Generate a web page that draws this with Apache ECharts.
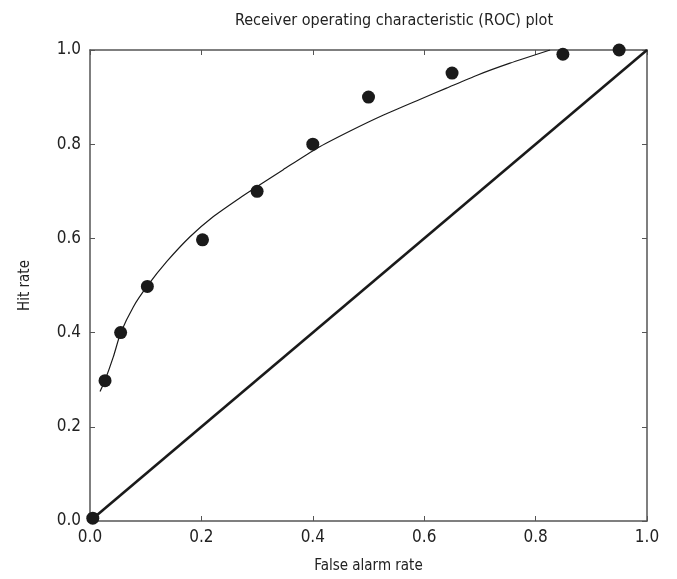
<!DOCTYPE html>
<html>
<head>
<meta charset="utf-8">
<script src="https://cdn.jsdelivr.net/npm/echarts@6/dist/echarts.min.js"></script>
<style>
  html, body { margin: 0; padding: 0; background: #fff; }
  #chart { width: 677px; height: 579px; }
</style>
</head>
<body>
<div id="chart"></div>
<script>
// observed points
const falseAlarm = [0.005, 0.027, 0.055, 0.103, 0.202, 0.30, 0.40, 0.50, 0.65, 0.849, 0.95];
const hitRate = [0.006, 0.298, 0.40, 0.498, 0.597, 0.70, 0.80, 0.90, 0.951, 0.991, 1.0];

// fitted ROC curve
const curveX = [0.018, 0.027, 0.042, 0.055, 0.078, 0.103, 0.138, 0.180, 0.221, 0.269,
                0.305, 0.347, 0.407, 0.467, 0.527, 0.592, 0.640, 0.694, 0.754, 0.826];
const curveY = [0.275, 0.299, 0.349, 0.399, 0.455, 0.499, 0.551, 0.604, 0.646, 0.686,
                0.714, 0.746, 0.791, 0.828, 0.862, 0.895, 0.919, 0.946, 0.972, 1.0];

// chance diagonal
const chanceX = [0, 1];
const chanceY = [0, 1];

const font = "'DejaVu Sans Condensed', 'Liberation Sans', sans-serif";
const ink = '#1a1a1a';
const frame = '#555';

const chart = echarts.init(document.getElementById('chart'));

const zip = (xs, ys) => xs.map((x, i) => [x, ys[i]]);
const fmt = v => v.toFixed(1);

function frameAxis(extra) {
    return Object.assign({
        type: 'value', min: 0, max: 1, interval: 0.2,
        axisLine: { show: true, onZero: false, lineStyle: { color: frame, width: 1.5 } },
        axisTick: { show: true, inside: true, length: 5, lineStyle: { color: frame, width: 1 } },
        axisLabel: { show: false },
        splitLine: { show: false }
    }, extra);
}

chart.setOption({
    animation: false,
    backgroundColor: '#fff',
    title: {
        text: 'Receiver operating characteristic (ROC) plot',
        left: 389,
        textAlign: 'center',
        top: 8,
        textStyle: { fontFamily: font, fontSize: 16, fontWeight: 'normal', color: '#222' }
    },
    grid: { left: 90, right: 30, top: 50, bottom: 58 },
    xAxis: [frameAxis({
        position: 'bottom',
        name: 'False alarm rate', nameLocation: 'middle', nameGap: 38,
        nameTextStyle: { fontFamily: font, fontSize: 15, color: '#222' },
        axisLabel: { show: true, formatter: fmt, fontFamily: font, fontSize: 17, color: '#222', margin: 8 }
    }), frameAxis({ position: 'top' })],
    yAxis: [frameAxis({
        position: 'left',
        name: 'Hit rate', nameLocation: 'middle', nameGap: 57, nameRotate: 90,
        nameTextStyle: { fontFamily: font, fontSize: 15, color: '#222' },
        axisLabel: { show: true, formatter: fmt, fontFamily: font, fontSize: 17, color: '#222', margin: 9 }
    }), frameAxis({ position: 'right' })],
    series: [{
        name: 'chance',
        type: 'line',
        data: zip(chanceX, chanceY),
        showSymbol: false,
        lineStyle: { color: ink, width: 2.6 },
        z: 2
    }, {
        name: 'fit',
        type: 'line',
        data: zip(curveX, curveY),
        smooth: 0.2,
        showSymbol: false,
        lineStyle: { color: ink, width: 1.2 },
        z: 3
    }, {
        name: 'observed',
        type: 'scatter',
        data: zip(falseAlarm, hitRate),
        symbolSize: 13,
        itemStyle: { color: ink, opacity: 1 },
        z: 4
    }]
});
</script>
</body>
</html>
